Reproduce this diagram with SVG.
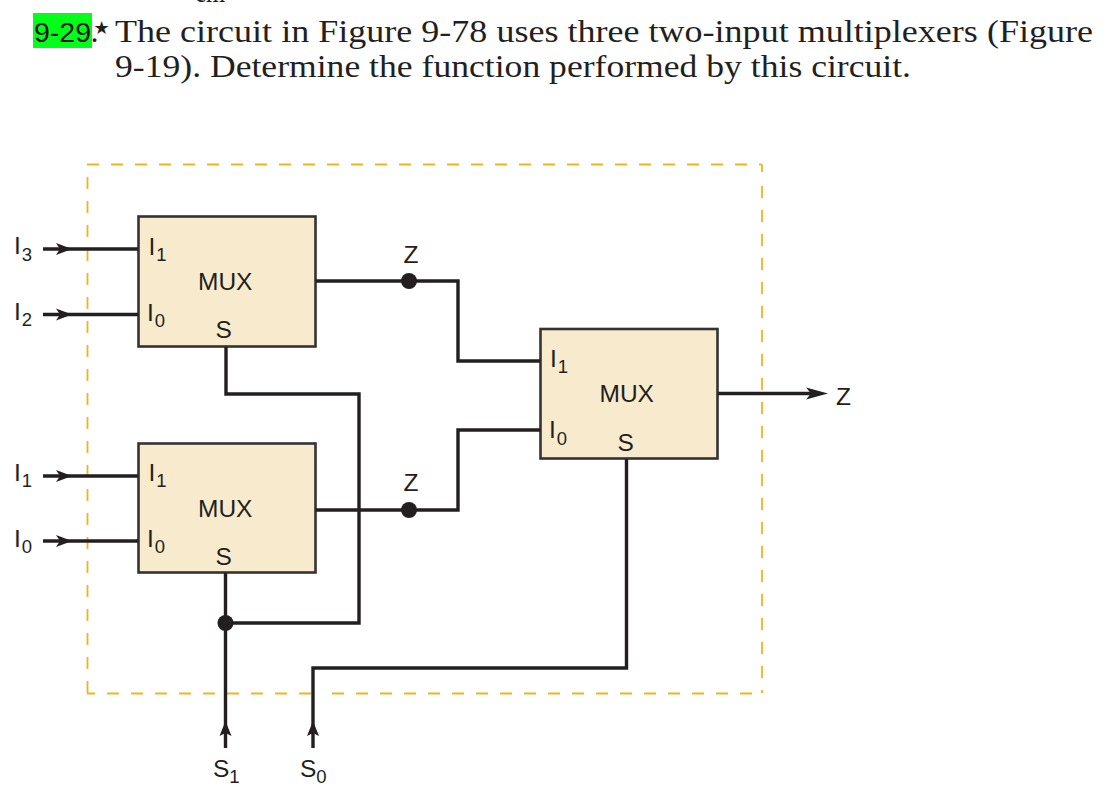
<svg xmlns="http://www.w3.org/2000/svg" width="1119" height="795" viewBox="0 0 1119 795">
<style>
.w{fill:none;stroke:#231f20;stroke-width:3.4}
.b{fill:#f8ebcd;stroke:#333;stroke-width:2.6}
.t{font-family:"Liberation Sans",Arial,sans-serif;font-size:24.500px;fill:#231f20}
.s{font-size:18.500px}
.q{font-family:"Liberation Serif","Times New Roman",serif;font-size:32px;fill:#231f20}
.d{fill:#231f20}
.a{fill:#231f20}
.y{fill:none;stroke:#ebb71e;stroke-width:1.800;stroke-dasharray:12 12}
</style>
<rect width="1119" height="795" fill="#fff"/>
<g id="heading">
<rect x="33" y="13" width="59" height="35" fill="#00ff19"/>
<text x="34" y="42" font-family="Liberation Sans,sans-serif" font-size="28.500" fill="#111" textLength="57" lengthAdjust="spacingAndGlyphs">9-29</text>
<text x="90.500" y="42" class="q">.<tspan font-family="DejaVu Sans,sans-serif" font-size="18" dx="-5" dy="-8">★</tspan></text>
<text x="115" y="42" class="q" textLength="978" lengthAdjust="spacingAndGlyphs">The circuit in Figure 9-78 uses three two-input multiplexers (Figure</text>
<text x="115" y="77" class="q" textLength="796" lengthAdjust="spacingAndGlyphs">9-19). Determine the function performed by this circuit.</text>
<text x="195" y="2" class="q" font-size="26" textLength="30" lengthAdjust="spacingAndGlyphs">cm</text>
</g>
<g id="boundary">
<path class="y" d="M87 164.500H762"/>
<path class="y" d="M87.500 177V693M762 186V693"/>
<path fill="none" stroke="#ebb71e" stroke-width="1.800" d="M762 164.500V172M87 693.500H95"/>
<path class="y" d="M107 693.500H312M332 693.500H762"/>
</g>
<g id="mux-top"><rect class="b" x="138.500" y="216.500" width="177" height="130"/>
<text class="t" x="148.500" y="255">I<tspan class="s" dx="1" dy="6">1</tspan></text>
<text class="t" x="147" y="321">I<tspan class="s" dx="1" dy="6">0</tspan></text>
<text class="t" x="198" y="290">MUX</text>
<text class="t" x="215.500" y="338">S</text></g>
<g id="mux-bottom"><rect class="b" x="138.500" y="443.500" width="177" height="129"/>
<text class="t" x="148.500" y="481">I<tspan class="s" dx="1" dy="6">1</tspan></text>
<text class="t" x="147" y="547">I<tspan class="s" dx="1" dy="6">0</tspan></text>
<text class="t" x="198" y="516.500">MUX</text>
<text class="t" x="215.500" y="565">S</text></g>
<g id="mux-right"><rect class="b" x="540.500" y="329" width="177" height="129.500"/>
<text class="t" x="550" y="367">I<tspan class="s" dx="1" dy="6">1</tspan></text>
<text class="t" x="549" y="438">I<tspan class="s" dx="1" dy="7">0</tspan></text>
<text class="t" x="599.500" y="402">MUX</text>
<text class="t" x="617.500" y="451">S</text></g>
<g id="connectors">
<path class="w" d="M43 249H138M43 314.500H138M43 476H138M43 541H138"/>
<path class="w" d="M316 281H458V361H540M316 510H458V430H540"/>
<path class="w" d="M226 347V394H359V623H225.500M225.500 573V748"/>
<path class="w" d="M626.500 459V668H313V748"/>
<path class="w" d="M718 393.500H815"/>
<path class="a" d="M56 243L72 249L56 255L60 249Z"/>
<path class="a" d="M56 308.500L72 314.500L56 320.500L60 314.500Z"/>
<path class="a" d="M56 470L72 476L56 482L60 476Z"/>
<path class="a" d="M56 535L72 541L56 547L60 541Z"/>
<path class="a" d="M806 387.500L828 393.500L806 399.500L811 393.500Z"/>
<path class="a" d="M225.500 721L219.500 736L225.500 733L231.500 736Z"/>
<path class="a" d="M313 721L307 736L313 733L319 736Z"/>
<circle class="d" cx="409" cy="281" r="8"/>
<circle class="d" cx="409" cy="510" r="8"/>
<circle class="d" cx="225.500" cy="623" r="8"/>
</g>
<g id="labels">
<text class="t" x="14" y="254">I<tspan class="s" dx="1" dy="7">3</tspan></text>
<text class="t" x="14" y="320">I<tspan class="s" dx="1" dy="6">2</tspan></text>
<text class="t" x="14" y="481">I<tspan class="s" dx="1" dy="6">1</tspan></text>
<text class="t" x="14" y="547">I<tspan class="s" dx="1" dy="6">0</tspan></text>
<text class="t" x="403.500" y="263">Z</text>
<text class="t" x="403.500" y="491">Z</text>
<text class="t" x="836" y="405">Z</text>
<text class="t" x="213" y="777">S<tspan class="s" dy="6">1</tspan></text>
<text class="t" x="300" y="777">S<tspan class="s" dy="6">0</tspan></text>
</g>
</svg>
